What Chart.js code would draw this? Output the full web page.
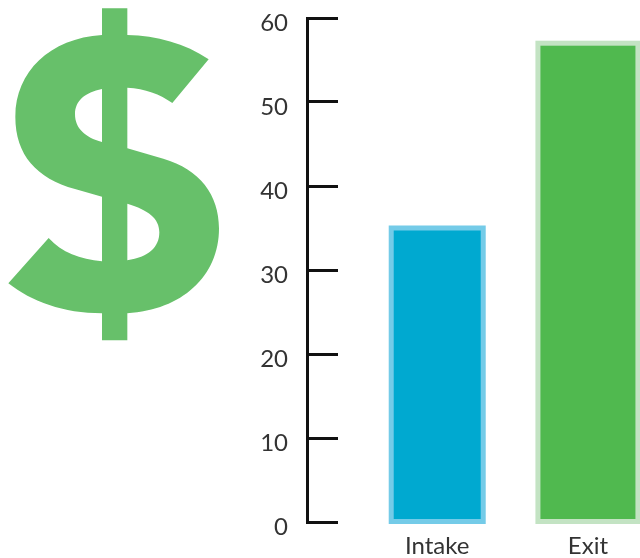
<!DOCTYPE html>
<html>
<head>
<meta charset="utf-8">
<style>
  html, body { margin: 0; padding: 0; background: #fff; overflow: hidden; }
  canvas { display: block; }
</style>
<script src="https://cdn.jsdelivr.net/npm/chart.js@4/dist/chart.umd.min.js"></script>
</head>
<body>
<canvas id="myChart" width="640" height="558"></canvas>
<script>
const categories = ["Intake", "Exit"];
const values = [35, 57];
const yTicks = [0, 10, 20, 30, 40, 50, 60];

const fillColors = ["#00a9d0", "#50b94f"];
const edgeColors = ["#74cbe8", "#c3e3c3"];
const barWidths = [92, 100];

// dollar icon outline, drawn at 3x and scaled down
const DOLLAR = "M306 25H382V105C470 107 555 130 626 178L517 309C480 282 435 266 382 263V445L490 476" +
    "C600 508 657 585 657 685C657 830 545 930 382 940V1021H306V940C190 940 95 905 25 850L146 714" +
    "C185 757 240 778 306 784V590L225 567C110 535 46 465 46 350C46 215 150 115 306 105Z" +
    "M306 267C255 277 225 303 225 342C225 385 255 412 306 426Z" +
    "M382 611C445 630 478 655 478 697C478 742 445 772 382 781Z";

const dollarIcon = {
    id: "dollarIcon",
    beforeDraw(chart) {
        let ctx = chart.ctx;
        ctx.save();
        ctx.scale(1 / 3, 1 / 3);
        ctx.fillStyle = "#67c06a";
        ctx.fill(new Path2D(DOLLAR), "evenodd");
        ctx.restore();
    }
};

// chart.js keeps bar borders inside the rect, these sit centred on its edge
const barEdges = {
    id: "barEdges",
    afterDatasetsDraw(chart) {
        let ctx = chart.ctx;
        ctx.save();
        ctx.lineWidth = 5;
        chart.data.datasets.forEach((ds, i) => {
            let bar = chart.getDatasetMeta(i).data[0];
            ctx.strokeStyle = edgeColors[i];
            ctx.strokeRect(bar.x - bar.width / 2, bar.y, bar.width, bar.base - bar.y);
        });
        ctx.restore();
    }
};

let myChart = document.getElementById("myChart").getContext("2d");
var chart = new Chart(myChart,
{
    type: "bar",
    plugins: [dollarIcon, barEdges],
    data:
    {
        datasets: categories.map((name, i) => ({
            label: name,
            data: [{ x: i, y: values[i] }],
            backgroundColor: fillColors[i],
            borderWidth: 0,
            barThickness: barWidths[i],
            clip: false
        }))
    },
    options: {
        responsive: false,
        animation: false,
        layout: { autoPadding: false, padding: { top: 18, left: 0, right: 0, bottom: 0 } },
        plugins: {
            legend: { display: false },
            tooltip: { enabled: false }
        },
        datasets: { bar: { grouped: false } },
        scales: {
            x: {
                type: "linear",
                offset: false,
                min: -0.864,
                max: 1.3455,
                afterBuildTicks: scale => {
                    scale.ticks = categories.map((c, i) => ({ value: i }));
                },
                afterFit: scale => { scale.height = 36; },
                grid: { display: false, offset: false },
                border: { display: false },
                ticks: {
                    autoSkip: false,
                    maxRotation: 0,
                    padding: 2,
                    color: "#333",
                    font: { family: "Lato", size: 24 },
                    callback: value => categories[value]
                }
            },
            y: {
                min: 0,
                max: 60,
                afterBuildTicks: scale => {
                    scale.ticks = yTicks.map(v => ({ value: v }));
                },
                afterFit: scale => {
                    scale.width = 307;
                    // the big tick padding would otherwise shrink the plot height
                    scale.paddingTop = 0;
                    scale.paddingBottom = 0;
                },
                border: { color: "#111", width: 3 },
                grid: {
                    drawOnChartArea: false,
                    tickLength: -31, // tick marks point into the plot
                    tickColor: "#111",
                    tickWidth: 3
                },
                ticks: {
                    padding: 50,
                    labelOffset: 5,
                    color: "#333",
                    font: { family: "Lato", size: 24 }
                }
            }
        }
    }
});
</script>
</body>
</html>
